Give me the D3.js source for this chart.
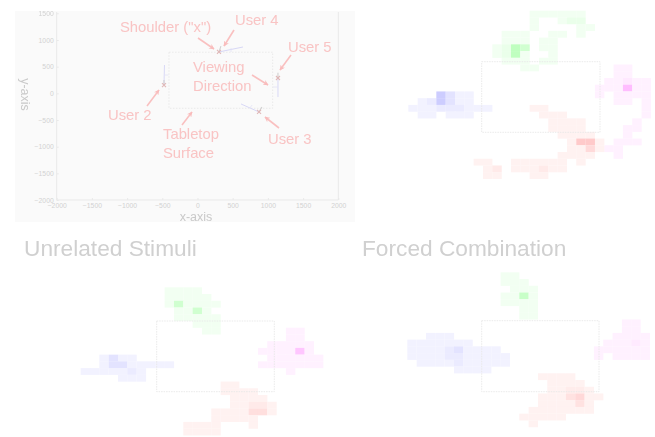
<!doctype html>
<html>
<head>
    <meta charset="UTF-8">
    <title>Touch heatmaps</title>
    <script src="https://d3js.org/d3.v7.min.js"></script>
    <style>
        html, body { margin: 0; padding: 0; background: #fff; }
        svg { display: block; filter: blur(0.7px); font-family: "Liberation Sans", Arial, sans-serif; }
    </style>
</head>
<body>
    <script>
        // top left plot: shoulder positions in mm
        var xTicks = [-2000, -1500, -1000, -500, 0, 500, 1000, 1500, 2000];
        var yTicks = [-2000, -1500, -1000, -500, 0, 500, 1000, 1500];
        var tableX = [-405, 1068];
        var tableY = [-281, 770];
        var shoulders = [[305, 775], [-476, 155], [874, -350], [1143, 287]];
        var heads = [[333, 885], [-476, 250], [915, -255], [1143, 385]];
        var gazeEnds = [[646, 868], [-469, 530], [618, -200], [1143, -70]];
        var stemStart = [[476, 850], [-469, 343], [745, -275], [1143, 118]];
        var stemEnd = [[476, 775], [-412, 343], [775, -220], [1072, 118]];

        // heat cells, runs of bins: [row, first col, last col], peaks: [row, col, level]
        var topGreen = [[0,13,18],[1,13,13],[1,16,18],[2,13,13],[2,18,19],[3,10,12],[3,15,16],[3,18,18],[4,10,12],[4,14,15],[5,9,12],[5,14,15],[6,9,12],[6,15,15],[7,10,12],[7,14,15],[8,12,13]];
        var topGreenPeaks = [[5,11,4],[5,12,3],[6,11,4],[1,17,1.5],[1,18,1.5],[6,10,1.5],[5,10,1.5]];
        var topBlue = [[12,3,6],[13,1,6],[14,0,8],[15,1,2],[15,4,6]];
        var topBluePeaks = [[12,3,3.5],[13,3,3.5],[12,4,2],[13,4,2],[13,2,1.5],[14,3,1.5],[14,4,1.5],[14,5,1.5]];
        var topPink = [[8,22,23],[9,22,23],[10,21,25],[11,20,25],[12,20,20],[12,22,25],[13,22,23],[13,25,25],[14,25,25],[15,25,25],[16,24,24],[17,23,24],[18,23,23],[19,22,24],[20,21,22],[21,22,22]];
        var topPinkPeaks = [[11,23,4],[10,23,1.5]];
        var topRed = [[14,13,14],[15,14,16],[16,15,18],[17,15,18],[18,16,19],[19,17,20],[20,17,20],[21,16,19],[22,7,8],[22,11,16],[22,18,18],[23,8,9],[23,11,16],[24,8,9],[24,13,14]];
        var topRedPeaks = [[19,18,3.5],[19,19,3.5],[20,19,2.5],[23,9,1.5],[23,14,1.5]];

        var leftGreen = [[0,9,12],[1,9,13],[2,9,14],[3,10,13],[4,10,14],[5,12,14],[6,13,14]];
        var leftGreenPeaks = [[2,10,3],[3,12,3]];
        var leftBlue = [[10,2,5],[11,2,9],[12,0,6],[13,4,6]];
        var leftBluePeaks = [[10,3,2],[11,3,2],[11,4,2],[12,5,1.5]];
        var leftPink = [[6,22,23],[7,22,23],[8,20,24],[9,19,24],[10,20,25],[11,19,25],[12,22,22]];
        var leftPinkPeaks = [[9,23,3.5]];
        var leftRed = [[14,15,16],[15,15,18],[16,16,19],[17,16,20],[18,14,20],[19,14,18],[20,11,14],[20,18,18],[21,11,14]];
        var leftRedPeaks = [[17,18,1.5],[17,19,1.5],[18,18,2.2],[18,19,2.2]];

        var rightGreen = [[0,10,11],[1,10,12],[2,11,13],[3,10,13],[4,10,13],[5,12,13],[6,12,13]];
        var rightGreenPeaks = [[3,12,3.5]];
        var rightBlue = [[9,2,4],[10,0,6],[11,0,9],[12,0,10],[13,1,10],[14,5,8]];
        var rightBluePeaks = [[11,5,2],[11,4,1.5],[12,4,1.5],[12,5,1.5],[13,5,1.5]];
        var rightPink = [[7,23,24],[8,23,24],[9,22,25],[10,21,25],[11,20,25],[12,20,20],[12,22,25]];
        var rightPinkPeaks = [[10,24,1.4]];
        var rightRed = [[15,14,17],[16,15,18],[17,15,19],[18,14,20],[19,14,19],[20,13,19],[21,12,16],[22,13,13]];
        var rightRedPeaks = [[18,17,2],[18,18,2.6],[19,18,2],[17,17,1.4],[17,18,1.4]];

        var titles = ["Unrelated Stimuli", "Forced Combination"];
        var labels = ['Shoulder ("x")', "User 4", "User 5", "Viewing", "Direction", "User 2", "Tabletop", "Surface", "User 3"];

        var w = 655, h = 437;
        var svg = d3.select("body").append("svg").attr("width", w).attr("height", h);

        var defs = svg.append("defs");
        defs.append("marker")
            .attr("id", "arrow")
            .attr("viewBox", "0 0 10 10")
            .attr("refX", 9).attr("refY", 5)
            .attr("markerWidth", 3.4).attr("markerHeight", 3.4)
            .attr("orient", "auto")
            .append("path")
            .attr("d", "M0,0L10,5L0,10L3,5Z")
            .attr("fill", "#f9bcbc");

        // ---- top left plot ----
        svg.append("rect").attr("x", 15).attr("y", 11).attr("width", 340).attr("height", 211).attr("fill", "#fafafa");

        var x = d3.scaleLinear().domain([-2000, 2000]).range([56.7, 338.3]);
        var y = d3.scaleLinear().domain([-2000, 1500]).range([200, 13.3]);

        svg.append("path")
            .attr("d", "M" + x(-2000) + ",12V" + y(-2000) + "H" + x(2000) + "V12")
            .attr("fill", "none").attr("stroke", "#e9e9e9").attr("stroke-width", 1);

        var xAxis = svg.append("g").attr("transform", "translate(0," + y(-2000) + ")")
            .call(d3.axisBottom(x).tickValues(xTicks).tickSize(-2).tickPadding(3.5).tickFormat(d3.format("d")));
        var yAxis = svg.append("g").attr("transform", "translate(" + x(-2000) + ",0)")
            .call(d3.axisLeft(y).tickValues(yTicks).tickSize(-2).tickPadding(3).tickFormat(d3.format("d")));
        [xAxis, yAxis].forEach(function(a) {
            a.select(".domain").remove();
            a.selectAll("line").attr("stroke", "#e9e9e9");
            a.selectAll("text").attr("fill", "#d2d2d2").attr("font-size", 6.8);
        });

        svg.append("text").attr("x", 196).attr("y", 221).attr("text-anchor", "middle")
            .attr("font-size", 12.5).attr("fill", "#c9c9c9").text("x-axis");
        svg.append("text").attr("transform", "translate(21,94.5) rotate(90)").attr("text-anchor", "middle")
            .attr("font-size", 12.5).attr("fill", "#c9c9c9").text("y-axis");

        svg.append("rect")
            .attr("x", x(tableX[0])).attr("y", y(tableY[1]))
            .attr("width", x(tableX[1]) - x(tableX[0])).attr("height", y(tableY[0]) - y(tableY[1]))
            .attr("fill", "none").attr("stroke", "#e6e6e6").attr("stroke-width", 0.8).attr("stroke-dasharray", "1.5,1.5");

        shoulders.forEach(function(s, i) {
            svg.append("line")
                .attr("x1", x(s[0])).attr("y1", y(s[1]))
                .attr("x2", x(gazeEnds[i][0])).attr("y2", y(gazeEnds[i][1]))
                .attr("stroke", "#d8d8f6").attr("stroke-width", 1);
            svg.append("line")
                .attr("x1", x(stemStart[i][0])).attr("y1", y(stemStart[i][1]))
                .attr("x2", x(stemEnd[i][0])).attr("y2", y(stemEnd[i][1]))
                .attr("stroke", "#e2e2f6").attr("stroke-width", 0.8);
            svg.append("line")
                .attr("x1", x(s[0])).attr("y1", y(s[1]))
                .attr("x2", x(heads[i][0])).attr("y2", y(heads[i][1]))
                .attr("stroke", "#d0d0d0").attr("stroke-width", 1.1);
            svg.append("path")
                .attr("transform", "translate(" + x(s[0]) + "," + y(s[1]) + ")")
                .attr("d", "M-2,-2L2,2M-2,2L2,-2")
                .attr("stroke", "#e0b8b8").attr("stroke-width", 1.1).attr("fill", "none");
        });

        var labelPos = [[120,32],[235,25],[288,52],[193,72],[193,91],[108,120],[163,139],[163,158],[268,144]];
        svg.selectAll("text.note").data(labels).enter().append("text")
            .attr("class", "note")
            .attr("x", function(d, i) { return labelPos[i][0]; })
            .attr("y", function(d, i) { return labelPos[i][1]; })
            .attr("font-size", 14.8).attr("fill", "#f9c4c4")
            .text(function(d) { return d; });

        var arrowPos = [[198,38,214,49],[234,30,224,46],[291,55,280,70],[252,75,268,85],[147,106,159,90],[182,125,192,112],[279,128,265,117]];
        svg.selectAll("line.arrow").data(arrowPos).enter().append("line")
            .attr("class", "arrow")
            .attr("x1", function(d) { return d[0]; })
            .attr("y1", function(d) { return d[1]; })
            .attr("x2", function(d) { return d[2]; })
            .attr("y2", function(d) { return d[3]; })
            .attr("stroke", "#f9c0c0").attr("stroke-width", 1.6)
            .attr("marker-end", "url(#arrow)");

        // ---- heat panels ----
        var cellW = 9.33, cellH = 6.73;
        var green = d3.scaleLinear().domain([1, 4]).range(["#f2fff2", "#bfffbf"]);
        var blue = d3.scaleLinear().domain([1, 4]).range(["#f2f2ff", "#c6c6ff"]);
        var pink = d3.scaleLinear().domain([1, 4]).range(["#fff1ff", "#ffbdff"]);
        var red = d3.scaleLinear().domain([1, 4]).range(["#fff2f1", "#ffc2c2"]);

        function expand(runs, peaks) {
            var cells = new Map();
            runs.forEach(function(r) {
                d3.range(r[1], r[2] + 1).forEach(function(c) {
                    cells.set(r[0] + "_" + c, { row: r[0], col: c, level: 1 });
                });
            });
            peaks.forEach(function(p) {
                cells.set(p[0] + "_" + p[1], { row: p[0], col: p[1], level: p[2] });
            });
            return Array.from(cells.values());
        }

        function heatPanel(left, top, rectBox, series) {
            var col = d3.scaleLinear().domain([0, 1]).range([left, left + cellW]);
            var row = d3.scaleLinear().domain([0, 1]).range([top, top + cellH]);
            var g = svg.append("g");

            series.forEach(function(s) {
                g.append("g").selectAll("rect").data(expand(s.runs, s.peaks)).enter().append("rect")
                    .attr("x", function(d) { return col(d.col); })
                    .attr("y", function(d) { return row(d.row); })
                    .attr("width", cellW + 0.1)
                    .attr("height", cellH + 0.1)
                    .attr("fill", function(d) { return s.color(d.level); });
            });

            var tx = d3.scaleLinear().domain(tableX).range([rectBox[0], rectBox[1]]);
            var ty = d3.scaleLinear().domain(tableY).range([rectBox[3], rectBox[2]]);
            g.append("rect")
                .attr("x", tx(tableX[0])).attr("y", ty(tableY[1]))
                .attr("width", tx(tableX[1]) - tx(tableX[0]))
                .attr("height", ty(tableY[0]) - ty(tableY[1]))
                .attr("fill", "none").attr("stroke", "#e8e8e8").attr("stroke-width", 0.9).attr("stroke-dasharray", "1.5,1");
        }

        heatPanel(408.33, 10.67, [481.7, 600, 61.7, 132.3], [
            { runs: topGreen, peaks: topGreenPeaks, color: green },
            { runs: topBlue, peaks: topBluePeaks, color: blue },
            { runs: topPink, peaks: topPinkPeaks, color: pink },
            { runs: topRed, peaks: topRedPeaks, color: red }
        ]);
        heatPanel(80.67, 287.33, [156.7, 274.3, 321, 391.7], [
            { runs: leftGreen, peaks: leftGreenPeaks, color: green },
            { runs: leftBlue, peaks: leftBluePeaks, color: blue },
            { runs: leftPink, peaks: leftPinkPeaks, color: pink },
            { runs: leftRed, peaks: leftRedPeaks, color: red }
        ]);
        heatPanel(407.33, 272.33, [481.7, 599, 320.7, 391.7], [
            { runs: rightGreen, peaks: rightGreenPeaks, color: green },
            { runs: rightBlue, peaks: rightBluePeaks, color: blue },
            { runs: rightPink, peaks: rightPinkPeaks, color: pink },
            { runs: rightRed, peaks: rightRedPeaks, color: red }
        ]);

        svg.append("text").attr("x", 24).attr("y", 256).attr("font-size", 22.7).attr("fill", "#d0d0d0").text(titles[0]);
        svg.append("text").attr("x", 362).attr("y", 256).attr("font-size", 22.7).attr("fill", "#d0d0d0").text(titles[1]);
    </script>
</body>
</html>
